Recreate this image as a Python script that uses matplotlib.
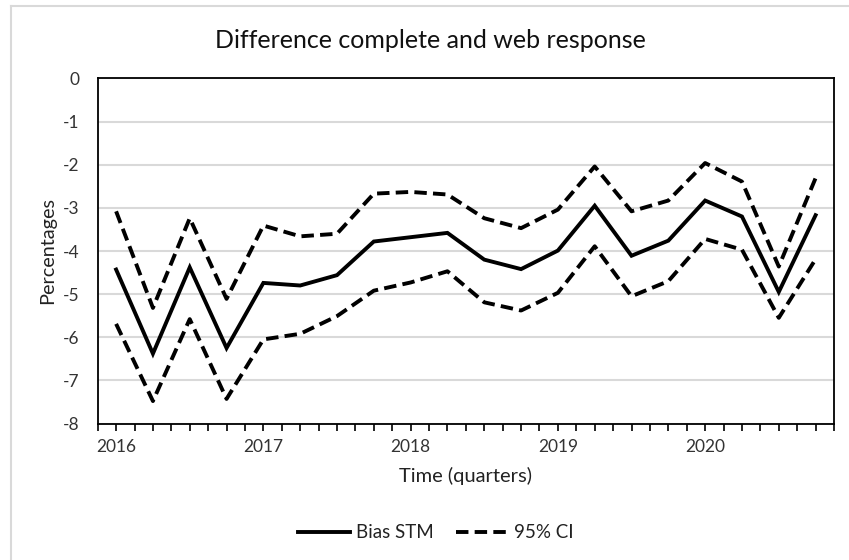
import matplotlib
matplotlib.use("Agg")
import matplotlib.pyplot as plt
from matplotlib.lines import Line2D
import numpy as np

quarters = ["2016Q1","2016Q2","2016Q3","2016Q4","2017Q1","2017Q2","2017Q3","2017Q4",
            "2018Q1","2018Q2","2018Q3","2018Q4","2019Q1","2019Q2","2019Q3","2019Q4",
            "2020Q1","2020Q2","2020Q3","2020Q4"]
bias = [-4.43, -6.38, -4.38, -6.25, -4.74, -4.80, -4.56, -3.78, -3.68, -3.58,
        -4.20, -4.42, -3.99, -2.95, -4.11, -3.76, -2.83, -3.20, -4.95, -3.17]
ci_upper = [-3.08, -5.32, -3.24, -5.11, -3.41, -3.66, -3.60, -2.67, -2.63, -2.69,
            -3.24, -3.47, -3.04, -2.04, -3.08, -2.83, -1.96, -2.39, -4.36, -2.31]
ci_lower = [-5.69, -7.48, -5.58, -7.43, -6.05, -5.92, -5.51, -4.92, -4.73, -4.47,
            -5.19, -5.38, -4.97, -3.89, -5.05, -4.70, -3.72, -3.97, -5.55, -4.19]
year_labels = ["2016", "2017", "2018", "2019", "2020"]

plt.rcParams['font.family'] = ['Lato', 'DejaVu Sans']

fig = plt.figure(figsize=(8.49, 5.60), dpi=100)
ax = fig.add_axes([97.7/849, 1-423.5/560, (834-97.7)/849, (423.5-78.5)/560])

x = np.arange(len(quarters))
lw = 2.8
dash = (0, (3.2, 1.6))
ax.plot(x, bias, color='black', lw=lw, solid_joinstyle='miter', label='Bias STM', zorder=3)
ax.plot(x, ci_upper, color='black', lw=lw, ls=dash, dash_capstyle='butt',
        label='95% CI', zorder=3)
ax.plot(x, ci_lower, color='black', lw=lw, ls=dash, dash_capstyle='butt', zorder=3)

ax.set_xlim(-0.5, len(quarters) - 0.5)
ax.set_ylim(-8, 0)
ax.set_yticks(np.arange(-8, 1, 1))
ax.yaxis.grid(True, color='#d9d9d9', lw=1.5)
ax.set_axisbelow(True)
ax.tick_params(axis='y', length=0, pad=13, labelsize=12.5, colors='#333333')
ax.set_yticklabels([str(v) for v in range(-8, 1)], color='#333333')

major = [i for i, q in enumerate(quarters) if q.endswith("Q1")]
ax.set_xticks(major)
ax.set_xticklabels(year_labels)
ax.set_xticks(np.arange(-0.5, len(quarters), 0.5), minor=True)
ax.tick_params(axis='x', which='both', direction='out', length=5, width=1.2,
               color='black', labelsize=12.5, labelcolor='#333333', pad=6)

for s in ax.spines.values():
    s.set_color('black')
    s.set_linewidth(1.3)

ax.set_xlabel("Time (quarters)", fontsize=14.5, color='#222222', labelpad=9)
ax.set_ylabel("Percentages", fontsize=14.3, color='#222222', labelpad=5)
fig.text(430/849, 1-40/560, "Difference complete and web response", fontsize=18,
         color='#111111', ha='center', va='center')

handles = [Line2D([], [], color='black', lw=lw),
           Line2D([], [], color='black', lw=lw, ls=dash)]
fig.legend(handles, ['Bias STM', '95% CI'], loc='center', bbox_to_anchor=(436/849, 1-533/560),
           ncol=2, frameon=False, fontsize=13.5, handlelength=2.75, handletextpad=0.35,
           columnspacing=1.2, labelcolor='#222222')

# chart-area border (left and top visible)
fig.add_artist(Line2D([10.5/849, 10.5/849], [0, 1-6/560], transform=fig.transFigure,
                      color='#d9d9d9', lw=1.5))
fig.add_artist(Line2D([10.5/849, 1], [1-6/560, 1-6/560], transform=fig.transFigure,
                      color='#d9d9d9', lw=1.5))

fig.savefig("out.png", dpi=100)
